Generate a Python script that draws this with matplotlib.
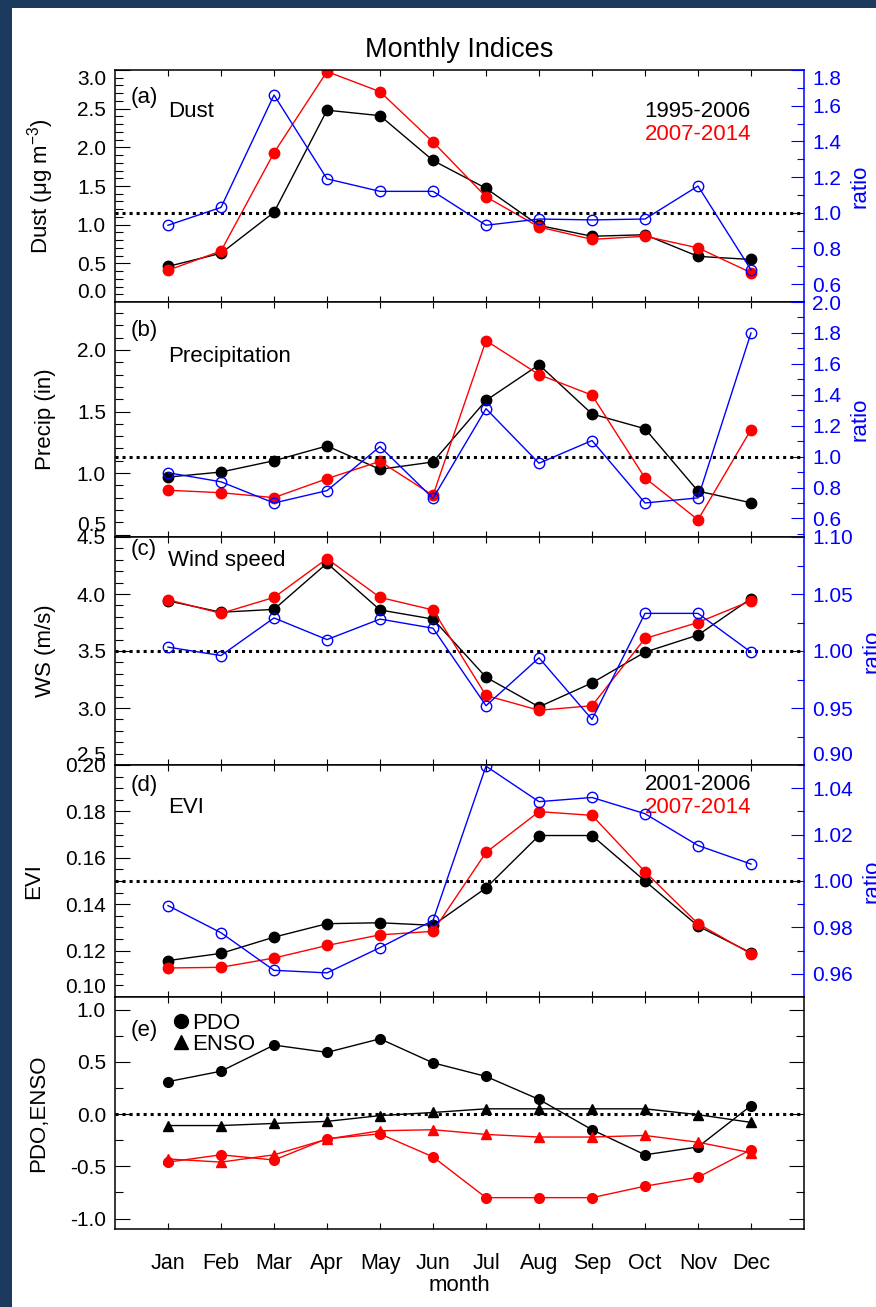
"""Monthly indices: dust, precipitation, wind speed, EVI and PDO/ENSO by month."""

import matplotlib
matplotlib.use('Agg')
import matplotlib.pyplot as plt
from matplotlib.lines import Line2D
from matplotlib.patches import Rectangle
from matplotlib.ticker import MultipleLocator

months = ['Jan', 'Feb', 'Mar', 'Apr', 'May', 'Jun',
          'Jul', 'Aug', 'Sep', 'Oct', 'Nov', 'Dec']
month_index = list(range(1, 13))

# (a) dust
dust_early = [0.46, 0.63, 1.16, 2.48, 2.41, 1.83, 1.47, 0.99, 0.85, 0.87, 0.59, 0.55]
dust_late = [0.41, 0.66, 1.93, 2.98, 2.72, 2.07, 1.36, 0.97, 0.81, 0.85, 0.70, 0.38]
dust_ratio = [0.93, 1.03, 1.66, 1.19, 1.12, 1.12, 0.93, 0.965, 0.96, 0.965, 1.15, 0.68]

# (b) precipitation
precip_early = [0.967, 1.008, 1.10, 1.22, 1.03, 1.09, 1.59, 1.88, 1.48, 1.36, 0.853, 0.758]
precip_late = [0.86, 0.84, 0.80, 0.954, 1.095, 0.818, 2.076, 1.80, 1.633, 0.96, 0.62, 1.353]
precip_ratio = [0.896, 0.837, 0.70, 0.78, 1.065, 0.73, 1.31, 0.957, 1.104, 0.70, 0.733, 1.80]

# (c) wind speed
ws_early = [3.94, 3.84, 3.865, 4.27, 3.86, 3.78, 3.27, 3.01, 3.22, 3.49, 3.64, 3.96]
ws_late = [3.95, 3.83, 3.97, 4.31, 3.97, 3.86, 3.11, 2.98, 3.02, 3.61, 3.75, 3.94]
ws_ratio = [1.0034, 0.996, 1.029, 1.01, 1.028, 1.02, 0.952, 0.994, 0.94, 1.033, 1.033, 0.999]

# (d) EVI
evi_early = [0.1157, 0.1188, 0.1258, 0.1316, 0.132, 0.1309, 0.147, 0.1696, 0.1696, 0.150, 0.1306, 0.119]
evi_late = [0.1125, 0.1128, 0.1168, 0.1222, 0.1268, 0.1283, 0.1623, 0.1799, 0.1783, 0.154, 0.1316, 0.1186]
evi_ratio = [0.9894, 0.9777, 0.9615, 0.9604, 0.9713, 0.983, 1.0495, 1.0342, 1.036, 1.029, 1.0153, 1.0073]

# (e) PDO and ENSO
pdo_early = [0.31, 0.41, 0.66, 0.59, 0.72, 0.49, 0.36, 0.14, -0.15, -0.39, -0.315, 0.08]
pdo_late = [-0.46, -0.39, -0.44, -0.236, -0.19, -0.41, -0.80, -0.80, -0.80, -0.69, -0.605, -0.34]
enso_early = [-0.11, -0.11, -0.09, -0.07, -0.015, 0.015, 0.05, 0.05, 0.05, 0.05, -0.006, -0.08]
enso_late = [-0.43, -0.46, -0.39, -0.24, -0.16, -0.15, -0.195, -0.22, -0.22, -0.205, -0.27, -0.37]

NAVY = '#1b3a5e'
FIG_W, FIG_H = 876, 1307
LEFT, RIGHT = 115, 804
EDGES = [70, 302, 537, 765, 997, 1229]

plt.rcParams['font.family'] = ['Liberation Sans', 'DejaVu Sans']
plt.rcParams['mathtext.fontset'] = 'custom'
plt.rcParams['mathtext.rm'] = 'Liberation Sans'
plt.rcParams['mathtext.it'] = 'Liberation Sans:italic'
plt.rcParams['axes.unicode_minus'] = False


def axes_rect(top, bottom):
    """Figure fraction rectangle from pixel rows."""
    return [LEFT / FIG_W, 1 - bottom / FIG_H,
            (RIGHT - LEFT) / FIG_W, (bottom - top) / FIG_H]


def pin_edge_labels(ax, right=False, top=False, bottom=False):
    """Keep labels at the axis ends inside the frame."""
    lo, hi = ax.get_ylim()
    span = hi - lo
    for tick, value in zip(ax.yaxis.get_major_ticks(), ax.get_yticks()):
        label = tick.label2 if right else tick.label1
        if top and abs(value - hi) < 0.03 * span:
            label.set_va('top')
        if bottom and abs(value - lo) < 0.06 * span:
            label.set_va('bottom')


def base_axis(fig, top, bottom):
    ax = fig.add_axes(axes_rect(top, bottom))
    ax.set_xlim(0, 13)
    ax.set_xticks(month_index)
    ax.tick_params(axis='x', direction='in', top=True, bottom=True,
                   length=4.5, width=0.8, labelbottom=False)
    ax.tick_params(axis='y', which='major', direction='in', length=11,
                   width=0.8, labelsize=15, pad=6.5)
    ax.tick_params(axis='y', which='minor', direction='in', length=6, width=0.8)
    for spine in ax.spines.values():
        spine.set_linewidth(1.1)
    return ax


def ratio_panel(fig, top, bottom, early, late, ratio, cfg):
    ax = base_axis(fig, top, bottom)
    ax.plot(month_index, early, color='black', lw=1.0, marker='o', ms=7.5)
    ax.plot(month_index, late, color='red', lw=1.0, marker='o', ms=7.5)
    ax.set_ylim(*cfg['ylim'])
    ax.yaxis.set_major_locator(MultipleLocator(cfg['major']))
    ax.yaxis.set_minor_locator(MultipleLocator(cfg['minor']))
    ax.yaxis.set_major_formatter(cfg['fmt'])
    ax.set_ylabel(cfg['ylabel'], fontsize=16, labelpad=15)
    ax.spines['right'].set_visible(False)

    ax2 = ax.twinx()
    ax2.axhline(1.0, color='black', lw=2.2, ls=(0, (1, 1.3)))
    ax2.plot(month_index, ratio, color='blue', lw=1.0, marker='o', ms=7.5,
             mfc='none', mew=1.0)
    ax2.set_ylim(*cfg['rlim'])
    ax2.yaxis.set_major_locator(MultipleLocator(cfg['rmajor']))
    ax2.yaxis.set_minor_locator(MultipleLocator(cfg['rmajor'] / 2))
    ax2.yaxis.set_major_formatter(cfg['rfmt'])
    ax2.tick_params(axis='y', which='major', direction='in', length=9.4,
                    width=0.8, colors='blue', labelsize=15, pad=6)
    ax2.tick_params(axis='y', which='minor', direction='in', length=5,
                    width=0.8, colors='blue')
    for name in ('left', 'top', 'bottom'):
        ax2.spines[name].set_visible(False)
    ax2.spines['right'].set_color('blue')
    ax2.spines['right'].set_linewidth(1.1)
    ax2.set_ylabel('ratio', color='blue', fontsize=16, labelpad=6)

    pin_edge_labels(ax, top=cfg['pin'][0], bottom=cfg['pin'][1])
    pin_edge_labels(ax2, right=True, top=cfg['rpin'][0], bottom=cfg['rpin'][1])

    ax.text(0.022, cfg['tag_y'], cfg['tag'], transform=ax.transAxes,
            fontsize=16, va='baseline')
    ax.text(0.077, cfg['name_y'], cfg['name'], transform=ax.transAxes,
            fontsize=16, va='baseline')
    return ax


fig = plt.figure(figsize=(FIG_W / 100, FIG_H / 100), dpi=100, facecolor=NAVY)
fig.add_artist(Rectangle((12 / FIG_W, 0), 1, 1 - 8 / FIG_H,
                         transform=fig.transFigure, facecolor='white',
                         edgecolor='none', zorder=-1))
fig.text((LEFT + RIGHT) / 2 / FIG_W, 1 - 57 / FIG_H, 'Monthly Indices',
         ha='center', va='baseline', fontsize=19.5)

panels = [
    (dust_early, dust_late, dust_ratio,
     dict(ylim=(0, 3.0), major=0.5, minor=0.1, fmt='{x:.1f}',
          ylabel='Dust (μg m$^{-3}$)', rlim=(0.5, 1.8), rmajor=0.2,
          rfmt='{x:.1f}', pin=(True, True), rpin=(True, False),
          tag='(a)', tag_y=0.858, name='Dust', name_y=0.797)),
    (precip_early, precip_late, precip_ratio,
     dict(ylim=(0.48, 2.39), major=0.5, minor=0.1, fmt='{x:.1f}',
          ylabel='Precip (in)', rlim=(0.48, 2.0), rmajor=0.2,
          rfmt='{x:.1f}', pin=(False, True), rpin=(False, False),
          tag='(b)', tag_y=0.855, name='Precipitation', name_y=0.745)),
    (ws_early, ws_late, ws_ratio,
     dict(ylim=(2.5, 4.5), major=0.5, minor=0.1, fmt='{x:.1f}',
          ylabel='WS (m/s)', rlim=(0.90, 1.10), rmajor=0.05,
          rfmt='{x:.2f}', pin=(False, True), rpin=(False, True),
          tag='(c)', tag_y=0.921, name='Wind speed', name_y=0.873)),
    (evi_early, evi_late, evi_ratio,
     dict(ylim=(0.10, 0.20), major=0.02, minor=0.005, fmt='{x:.2f}',
          ylabel='EVI', rlim=(0.95, 1.05), rmajor=0.02,
          rfmt='{x:.2f}', pin=(False, True), rpin=(False, False),
          tag='(d)', tag_y=0.888, name='EVI', name_y=0.793)),
]

axes = []
for i, (early, late, ratio, cfg) in enumerate(panels):
    axes.append(ratio_panel(fig, EDGES[i], EDGES[i + 1], early, late, ratio, cfg))

# period keys
axes[0].text(0.923, 0.797, '1995-2006', transform=axes[0].transAxes,
             fontsize=16, ha='right', va='baseline')
axes[0].text(0.923, 0.698, '2007-2014', color='red', transform=axes[0].transAxes,
             fontsize=16, ha='right', va='baseline')
axes[3].text(0.923, 0.892, '2001-2006', transform=axes[3].transAxes,
             fontsize=16, ha='right', va='baseline')
axes[3].text(0.923, 0.793, '2007-2014', color='red', transform=axes[3].transAxes,
             fontsize=16, ha='right', va='baseline')

# (e) PDO / ENSO
ax = base_axis(fig, EDGES[4], EDGES[5])
ax.axhline(0.0, color='black', lw=2.2, ls=(0, (1, 1.3)))
ax.plot(month_index, pdo_early, color='black', lw=1.0, marker='o', ms=7)
ax.plot(month_index, enso_early, color='black', lw=1.0, marker='^', ms=7)
ax.plot(month_index, pdo_late, color='red', lw=1.0, marker='o', ms=7)
ax.plot(month_index, enso_late, color='red', lw=1.0, marker='^', ms=7)
ax.set_ylim(-1.1, 1.12)
ax.yaxis.set_major_locator(MultipleLocator(0.5))
ax.yaxis.set_minor_locator(MultipleLocator(0.25))
ax.yaxis.set_major_formatter('{x:.1f}')
ax.tick_params(axis='y', which='both', left=True, right=True)
ax.set_ylabel('PDO,ENSO', fontsize=16, labelpad=15)
ax.set_xticklabels(months)
ax.tick_params(axis='x', labelbottom=True, labelsize=15.5, pad=17)
ax.set_xlabel('month', fontsize=16, labelpad=1)
ax.text(0.022, 0.832, '(e)', transform=ax.transAxes, fontsize=16, va='baseline')
handles = [Line2D([], [], color='black', marker='o', ls='none', ms=10, label='PDO'),
           Line2D([], [], color='black', marker='^', ls='none', ms=10, label='ENSO')]
ax.legend(handles=handles, loc='upper left', bbox_to_anchor=(0.083, 0.93),
          frameon=False, fontsize=16, handlelength=0.8, handletextpad=0.1,
          labelspacing=0.0, borderpad=0, borderaxespad=0)

fig.savefig('out.png', dpi=100, facecolor=NAVY)
